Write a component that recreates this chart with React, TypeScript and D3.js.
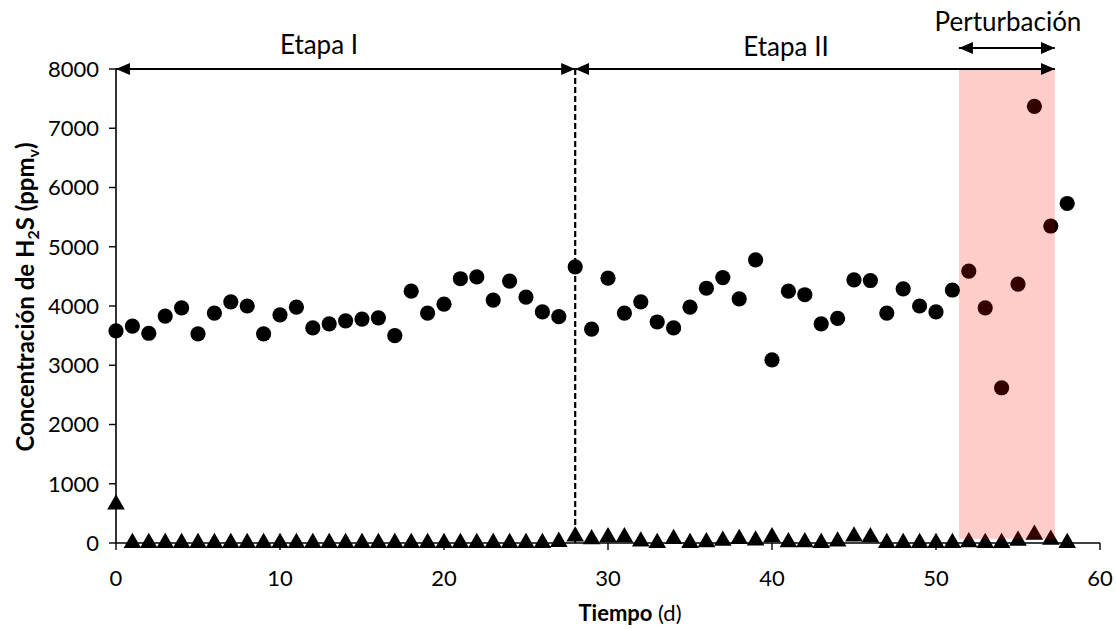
import React from 'react';
import * as d3 from 'd3';

// days 0..58
const days = d3.range(0, 59);

// circles: H2S in the inlet gas (ppmv)
const inletH2S = [
  3580, 3660, 3540, 3830, 3970, 3530, 3880, 4070, 4000, 3530,
  3850, 3980, 3630, 3700, 3750, 3780, 3800, 3500, 4250, 3880,
  4030, 4460, 4490, 4100, 4420, 4150, 3900, 3820, 4660, 3610,
  4470, 3880, 4070, 3730, 3630, 3980, 4300, 4480, 4120, 4780,
  3090, 4250, 4190, 3700, 3790, 4440, 4430, 3880, 4290, 4000,
  3900, 4270, 4590, 3970, 2620, 4370, 7370, 5350, 5730,
];

// triangles: H2S in the outlet gas (ppmv)
const outletH2S = [
  650, 0, 0, 0, 0, 0, 0, 0, 0, 0,
  0, 0, 0, 0, 0, 0, 0, 0, 0, 0,
  0, 0, 0, 0, 0, 0, 0, 20, 110, 65,
  100, 100, 25, 0, 70, 0, 15, 40, 70, 45,
  100, 15, 15, 0, 25, 110, 100, 0, 0, 0,
  0, 0, 15, 0, 0, 40, 140, 55, 0,
];

const xTicks = [0, 10, 20, 30, 40, 50, 60];
const yTicks = [0, 1000, 2000, 3000, 4000, 5000, 6000, 7000, 8000];

const stageChange = 28;
const shadeStart = 51.4;
const shadeEnd = 57.25;

const width = 1116;
const height = 629;
const margin = { left: 116, right: 16, top: 69, bottom: 86 };
const font = 'Lato, "Open Sans", sans-serif';

export default function App() {
  const x = d3.scaleLinear().domain([0, 60]).range([margin.left, width - margin.right]);
  const y = d3.scaleLinear().domain([0, 8000]).range([height - margin.bottom, margin.top]);
  const tri = d3.symbol().type(d3.symbolTriangle).size(135)();

  const x0 = x(0);
  const y0 = y(0);

  return (
    <svg width={width} height={height} style={{ position: 'absolute', left: 0, top: 0, background: '#fff' }}>
      <defs>
        <marker id="ah" viewBox="0 0 14 12" refX="14" refY="6" markerWidth="14" markerHeight="12"
          markerUnits="userSpaceOnUse" orient="auto-start-reverse">
          <path d="M0,0 L14,6 L0,12 Z" fill="#000" />
        </marker>
      </defs>

      {/* axes */}
      <line x1={x0} x2={x(60)} y1={y0} y2={y0} stroke="#000" strokeWidth={1.6} />
      <line x1={x0} x2={x0} y1={y0} y2={y(8000)} stroke="#000" strokeWidth={1.6} />
      {xTicks.map(t => (
        <g key={'xt' + t}>
          <line x1={x(t)} x2={x(t)} y1={y0} y2={y0 + 7} stroke="#000" strokeWidth={1.4} />
          <text x={x(t)} y={y0 + 43} textAnchor="middle" fontFamily={font} fontSize={22}>{t}</text>
        </g>
      ))}
      {yTicks.map(t => (
        <g key={'yt' + t}>
          <line x1={x0 - 7} x2={x0} y1={y(t)} y2={y(t)} stroke="#000" strokeWidth={1.4} />
          <text x={x0 - 17} y={y(t)} dy="0.36em" textAnchor="end" fontFamily={font} fontSize={22}>{t}</text>
        </g>
      ))}

      {/* stage separator */}
      <line x1={x(stageChange)} x2={x(stageChange)} y1={y(8000)} y2={y0} stroke="#000"
        strokeWidth={2.2} strokeDasharray="6,3" />

      {/* data */}
      {days.map((d, i) => (
        <circle key={'c' + d} cx={x(d)} cy={y(inletH2S[i])} r={7.6} fill="#000" />
      ))}
      {days.map((d, i) => (
        <path key={'t' + d} d={tri} transform={`translate(${x(d)},${y(outletH2S[i])})`} fill="#000" />
      ))}

      {/* disturbance shading */}
      <rect x={x(shadeStart)} width={x(shadeEnd) - x(shadeStart)} y={y(8000) + 1}
        height={y(70) - y(8000) - 1} fill="#f00" fillOpacity={0.2} />

      {/* stage arrows */}
      <line x1={x0} x2={x(stageChange)} y1={y(8000)} y2={y(8000)} stroke="#000" strokeWidth={2}
        markerStart="url(#ah)" markerEnd="url(#ah)" />
      <line x1={x(stageChange)} x2={x(shadeEnd)} y1={y(8000)} y2={y(8000)} stroke="#000" strokeWidth={2}
        markerStart="url(#ah)" markerEnd="url(#ah)" />
      <line x1={x(shadeStart)} x2={x(shadeEnd)} y1={48} y2={48} stroke="#000" strokeWidth={2}
        markerStart="url(#ah)" markerEnd="url(#ah)" />
      <text x={319} y={54} textAnchor="middle" fontFamily={font} fontSize={26}>Etapa I</text>
      <text x={786} y={56} textAnchor="middle" fontFamily={font} fontSize={26}>Etapa II</text>
      <text x={1008} y={31} textAnchor="middle" fontFamily={font} fontSize={26}>Perturbación</text>

      {/* axis titles */}
      <text x={630} y={621} textAnchor="middle" fontFamily={font} fontSize={22}>
        <tspan fontWeight="bold">Tiempo</tspan> (d)
      </text>
      <text transform={`translate(34,297) rotate(-90)`} textAnchor="middle"
        fontFamily={font} fontSize={24} fontWeight="bold">
        Concentración de H<tspan fontSize={16} dy={5}>2</tspan><tspan dy={-5}>S (ppm</tspan>
        <tspan fontSize={16} dy={5}>v</tspan><tspan dy={-5}>)</tspan>
      </text>
    </svg>
  );
}
